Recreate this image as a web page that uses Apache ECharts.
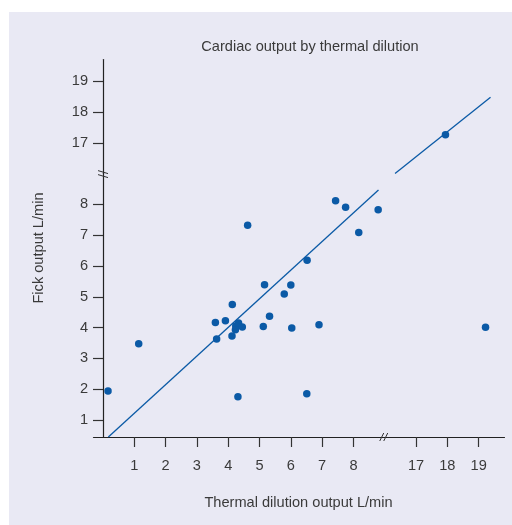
<!DOCTYPE html>
<html>
<head>
<meta charset="utf-8">
<script src="https://cdn.jsdelivr.net/npm/echarts@6/dist/echarts.min.js"></script>
<style>
html,body{margin:0;padding:0;background:#fff;}
#main{width:512px;height:525px;}
</style>
</head>
<body>
<div id="main"></div>
<script>
// cardiac output: thermal dilution (x) vs Fick (y), L/min
var thermal=[0.16,1.14,3.59,3.63,3.91,4.13,4.12,4.33,4.24,4.23,4.45,4.62,4.31,5.12,5.16,5.32,5.79,6.00,6.03,6.52,6.51,6.90,7.43,7.75,8.17,8.79,17.94,19.22];
var fick=   [1.94,3.48,4.17,3.63,4.22,4.75,3.73,4.15,4.05,3.93,4.02,7.32,1.76,4.04,5.39,4.37,5.09,5.38,3.99,6.19,1.85,4.09,8.12,7.91,7.09,7.83,17.26,4.01];
// fitted line, drawn in two pieces either side of the break
var fitX1=[0.17,8.80], fitY1=[0.45,8.47];
var fitX2=[16.33,19.38], fitY2=[15.66,18.48];
var tickVals=[1,2,3,4,5,6,7,8,17,18,19];
var breakFrom=9, breakTo=16;

var blue='#0b5aa6', ink='#3a3a3a';
var pts=[];
for(var i=0;i<thermal.length;i++){ pts.push([thermal[i],fick[i]]); }
var seg1=[[fitX1[0],fitY1[0]],[fitX1[1],fitY1[1]]];
var seg2=[[fitX2[0],fitY2[0]],[fitX2[1],fitY2[1]]];

var font='"Liberation Sans", Arial, sans-serif';
var fs=14.6;
var myChart=echarts.init(document.getElementById('main'));
var option={
	animation:false,
	backgroundColor:'#fff',
	title:{
		text:'Cardiac output by thermal dilution',
		left:305, top:34, textAlign:'center',
		textStyle:{fontSize:fs,fontWeight:'normal',color:ink,fontFamily:font}
	},
	grid:{left:93,top:59,width:411,height:378,containLabel:false},
	xAxis:{
		type:'value', min:-0.32, max:19.81,
		breaks:[{start:breakFrom,end:breakTo,gap:0}],
		breakArea:{show:false,expandOnClick:false},
		axisLine:{show:true,lineStyle:{color:'#222',width:1.2}},
		axisTick:{show:true,length:10,customValues:tickVals,lineStyle:{color:'#333',width:1.2}},
		axisLabel:{customValues:tickVals,margin:21,fontSize:fs,color:ink,fontFamily:font},
		splitLine:{show:false},
		name:'Thermal dilution output L/min',
		nameLocation:'middle', nameGap:58,
		nameTextStyle:{fontSize:fs,color:ink,fontFamily:font}
	},
	yAxis:{
		type:'value', min:0.45, max:19.72,
		breaks:[{start:breakFrom,end:breakTo,gap:0}],
		breakArea:{show:false,expandOnClick:false},
		axisLine:{show:true,onZero:true,lineStyle:{color:'#222',width:1.2}},
		axisTick:{show:true,length:10,customValues:tickVals,lineStyle:{color:'#333',width:1.2}},
		axisLabel:{customValues:tickVals,margin:5,fontSize:fs,color:ink,fontFamily:font},
		splitLine:{show:false},
		name:'Fick output L/min',
		nameLocation:'middle', nameGap:47,
		nameTextStyle:{fontSize:fs,color:ink,fontFamily:font}
	},
	series:[
		{type:'line',data:seg1,symbol:'none',lineStyle:{color:blue,width:1.3},z:2},
		{type:'line',data:seg2,symbol:'none',lineStyle:{color:blue,width:1.3},z:2},
		{type:'scatter',data:pts,symbolSize:7.5,itemStyle:{color:blue,opacity:1},z:3}
	]
};
myChart.setOption(option);

// panel background and the // break marks
var bx=myChart.convertToPixel({xAxisIndex:0},breakFrom);
var by=myChart.convertToPixel({yAxisIndex:0},breakFrom);
var x0=myChart.convertToPixel({xAxisIndex:0},0);
var yBase=myChart.convertToPixel({yAxisIndex:0},0.45);
var markStyle={stroke:'#333',lineWidth:1};
myChart.setOption({
	graphic:[
		{type:'rect',shape:{x:9,y:12,width:503,height:513},style:{fill:'#e9e9f4'},z:-10,silent:true},
		{type:'line',shape:{x1:bx-5,y1:yBase+4,x2:bx-1,y2:yBase-4},style:markStyle,z:10},
		{type:'line',shape:{x1:bx-1,y1:yBase+4,x2:bx+3,y2:yBase-4},style:markStyle,z:10},
		{type:'line',shape:{x1:x0-5,y1:by-3,x2:x0+5,y2:by},style:markStyle,z:10},
		{type:'line',shape:{x1:x0-5,y1:by+1,x2:x0+5,y2:by+4},style:markStyle,z:10}
	]
});
</script>
</body>
</html>
